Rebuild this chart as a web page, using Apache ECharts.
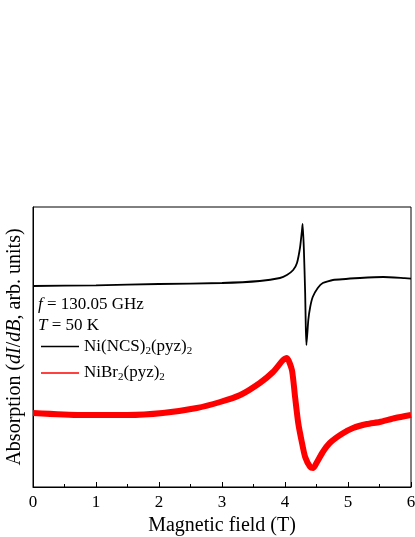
<!DOCTYPE html>
<html>
<head>
<meta charset="utf-8">
<script src="https://cdn.jsdelivr.net/npm/echarts@6/dist/echarts.min.js"></script>
<style>
  html, body { margin: 0; padding: 0; background: #fff; }
  #chart { width: 415px; height: 537px; }
</style>
</head>
<body>
<div id="chart"></div>
<script>
// field (T) and signal (arb. units)
var ncsField = [0, 1, 2, 3, 3.6, 3.92, 4.03, 4.13, 4.19, 4.24, 4.27, 4.28, 4.3, 4.32, 4.33, 4.34, 4.37, 4.4, 4.44, 4.52, 4.6, 4.76, 5.19, 5.56, 5.9, 6.0];
var ncsSignal = [5.025, 5.04, 5.075, 5.1, 5.15, 5.225, 5.3, 5.425, 5.6, 6.0, 6.425, 6.575, 5.925, 4.85, 4.0, 3.55, 4.175, 4.5, 4.75, 4.975, 5.1, 5.175, 5.225, 5.25, 5.22, 5.21];

var brField = [0, 0.75, 1.5, 2.06, 2.6, 2.97, 3.29, 3.6, 3.81, 3.97, 4.03, 4.11, 4.16, 4.21, 4.27, 4.32, 4.4, 4.45, 4.5, 4.6, 4.71, 4.9, 5.08, 5.3, 5.5, 5.75, 6.0];
var brSignal = [1.85, 1.8, 1.8, 1.85, 1.975, 2.125, 2.3, 2.6, 2.875, 3.175, 3.225, 2.925, 2.25, 1.6, 1.1, 0.75, 0.5, 0.475, 0.6, 0.875, 1.1, 1.325, 1.475, 1.575, 1.625, 1.725, 1.8];

var xTicks = [0, 1, 2, 3, 4, 5, 6];
var seriesNames = ['Ni(NCS)2(pyz)2', 'NiBr2(pyz)2'];

function pairs(xs, ys) {
  return xs.map(function (x, i) { return [x, ys[i]]; });
}

var font = 'Liberation Serif';
var chart = echarts.init(document.getElementById('chart'));

chart.setOption({
  animation: false,
  grid: {
    left: 33, right: 4, top: 207, bottom: 50,
    outerBoundsMode: 'none',
    containLabel: false,
    show: true, borderColor: '#000', borderWidth: 1
  },
  xAxis: {
    type: 'value',
    min: 0, max: 6, interval: 1,
    name: 'Magnetic field (T)',
    nameLocation: 'middle',
    nameGap: 25,
    nameTextStyle: { fontFamily: font, fontSize: 20, color: '#000' },
    axisLine: { lineStyle: { color: '#000', width: 1 } },
    axisTick: { inside: true, length: 5, lineStyle: { color: '#000' } },
    minorTick: { show: true, splitNumber: 2, length: 3, lineStyle: { color: '#000' } },
    axisLabel: {
      fontFamily: font, fontSize: 17, color: '#000', margin: 7,
      formatter: function (v) { return xTicks.indexOf(v) >= 0 ? String(v) : ''; }
    },
    splitLine: { show: false }
  },
  yAxis: {
    type: 'value',
    min: 0, max: 7,
    name: '{n|Absorption (}{i|dI}{n|/}{i|dB}{n|, arb. units)}',
    nameLocation: 'middle',
    nameGap: 8,
    nameTextStyle: {
      rich: {
        n: { fontFamily: font, fontSize: 20, color: '#000' },
        i: { fontFamily: font, fontSize: 20, fontStyle: 'italic', color: '#000' }
      }
    },
    axisLine: { show: true, lineStyle: { color: '#000' } },
    axisTick: { show: false },
    axisLabel: { show: false },
    splitLine: { show: false }
  },
  legend: {
    orient: 'vertical',
    left: 41, top: 338,
    padding: 0,
    icon: 'rect',
    itemWidth: 38, itemHeight: 1.6, itemGap: 8,
    data: seriesNames,
    formatter: function (name) {
      return name.replace(/\)2/g, '){s|2}').replace(/Br2/, 'Br{s|2}');
    },
    textStyle: {
      fontFamily: font, fontSize: 17, color: '#000',
      rich: {
        s: { fontFamily: font, fontSize: 11, color: '#000', verticalAlign: 'bottom', padding: [9, 0, 0, 0] }
      }
    }
  },
  graphic: [
    {
      type: 'text', left: 38, top: 296,
      style: {
        text: '{i|f}{n| = 130.05 GHz}',
        rich: {
          n: { fontFamily: font, fontSize: 17, fill: '#000' },
          i: { fontFamily: font, fontSize: 17, fontStyle: 'italic', fill: '#000' }
        }
      }
    },
    {
      type: 'text', left: 38, top: 317,
      style: {
        text: '{i|T}{n| = 50 K}',
        rich: {
          n: { fontFamily: font, fontSize: 17, fill: '#000' },
          i: { fontFamily: font, fontSize: 17, fontStyle: 'italic', fill: '#000' }
        }
      }
    }
  ],
  series: [
    {
      name: seriesNames[0],
      type: 'line',
      data: pairs(ncsField, ncsSignal),
      symbol: 'none',
      smooth: 0.15,
      color: '#000',
      lineStyle: { color: '#000', width: 1.8 }
    },
    {
      name: seriesNames[1],
      type: 'line',
      data: pairs(brField, brSignal),
      symbol: 'none',
      smooth: 0.2,
      color: '#ff0000',
      lineStyle: { color: '#ff0000', width: 6 }
    }
  ]
});
</script>
</body>
</html>
